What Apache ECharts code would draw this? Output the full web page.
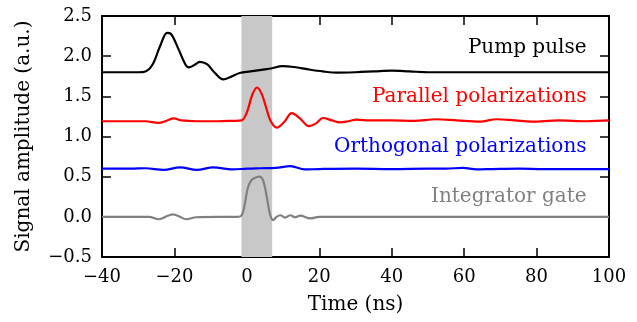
<!DOCTYPE html>
<html>
<head>
<meta charset="utf-8">
<script src="https://cdn.jsdelivr.net/npm/echarts@6/dist/echarts.min.js"></script>
<style>
  html, body { margin: 0; padding: 0; background: #fff; }
  #chart { width: 637px; height: 322px; }
</style>
</head>
<body>
<div id="chart"></div>
<script>
// time axis (ns) and the four traces
const pumpT = [-40, -30, -28, -26, -24, -22, -21, -19, -17, -16, -14.5, -13, -11, -9, -6.5, -4.5, -2, 1, 4, 7, 9.7, 13, 17, 21, 25, 30, 35, 40, 45, 50, 60, 70, 80, 90, 100]
const pumpV = [1.80, 1.80, 1.81, 1.90, 2.12, 2.29, 2.28, 2.10, 1.90, 1.86, 1.89, 1.93, 1.90, 1.80, 1.71, 1.74, 1.79, 1.81, 1.83, 1.85, 1.875, 1.865, 1.835, 1.81, 1.795, 1.80, 1.81, 1.82, 1.81, 1.80, 1.80, 1.80, 1.80, 1.80, 1.80]

const parT = [-40, -32, -28, -24.4, -22, -20.2, -18, -14, -8, -4, -1.5, 0, 1.5, 2.8, 4, 5.2, 6.5, 8.3, 10.3, 12.4, 14.8, 17, 19, 21, 23.5, 25.7, 28, 30.3, 34, 40, 46, 52.4, 58, 64.4, 69, 74, 78.6, 86, 93.8, 100]
const parV = [1.19, 1.19, 1.19, 1.17, 1.20, 1.225, 1.20, 1.19, 1.19, 1.195, 1.20, 1.30, 1.52, 1.61, 1.54, 1.38, 1.20, 1.11, 1.18, 1.29, 1.22, 1.13, 1.16, 1.23, 1.20, 1.175, 1.19, 1.21, 1.20, 1.20, 1.195, 1.215, 1.20, 1.185, 1.215, 1.20, 1.185, 1.20, 1.19, 1.20]

const ortT = [-40, -32, -28, -23, -18.4, -13.8, -9.3, -4.1, 0, 4, 8, 12, 16, 20, 30, 40, 50, 55, 59.7, 63.4, 68, 75, 82, 90, 100]
const ortV = [0.60, 0.60, 0.605, 0.585, 0.615, 0.585, 0.615, 0.59, 0.60, 0.605, 0.61, 0.63, 0.59, 0.595, 0.60, 0.595, 0.60, 0.60, 0.61, 0.59, 0.595, 0.60, 0.595, 0.595, 0.595]

const gateT = [-40, -30, -27, -24.4, -22.5, -20.4, -18.5, -16.8, -14, -8, -2.5, -1.4, -0.6, 0.2, 1, 2, 3.5, 4.5, 5.5, 6.4, 7.3, 8.2, 9.2, 10.6, 12, 13.3, 14.7, 17.5, 20, 25, 40, 60, 80, 100]
const gateV = [0, 0, 0, -0.03, 0, 0.03, 0, -0.03, -0.005, 0, 0, 0.02, 0.15, 0.35, 0.44, 0.48, 0.50, 0.45, 0.25, 0.03, -0.04, 0, 0.02, -0.01, 0.02, -0.005, 0.015, -0.02, 0, 0, 0, 0, 0, 0]

// integrator gate window (ns)
const gateWindow = [-1.5, 7]

const labels = [
  { text: 'Pump pulse', x: 93.8, y: 2.10, color: '#000000' },
  { text: 'Parallel polarizations', x: 93.8, y: 1.49, color: '#ff0000' },
  { text: 'Orthogonal polarizations', x: 93.8, y: 0.87, color: '#0000ff' },
  { text: 'Integrator gate', x: 93.8, y: 0.25, color: '#808080' }
]

const font = 'DejaVu Serif'
const minus = v => String(v).replace('-', '\u2212')
const pairs = (t, v) => t.map((x, i) => [x, v[i]])

const chart = echarts.init(document.getElementById('chart'), null, { renderer: 'canvas' })

const frameAxis = {
  axisLine: { show: true, onZero: false, lineStyle: { color: '#000', width: 2 } },
  axisTick: { show: true, inside: true, length: 9, lineStyle: { color: '#000', width: 1.5 } },
  splitLine: { show: false }
}

function trace(name, t, v, color) {
  return {
    name, type: 'line', data: pairs(t, v), smooth: 0.35, showSymbol: false,
    lineStyle: { color, width: 2.2 }, z: 3, silent: true
  }
}

const options = {
  animation: false,
  grid: { left: 102, right: 28, top: 16, bottom: 65 },
  xAxis: [{
    type: 'value', min: -40, max: 100, interval: 20,
    ...frameAxis,
    axisLabel: { color: '#000', fontFamily: font, fontSize: 18, margin: 11, formatter: minus },
    name: 'Time (ns)', nameLocation: 'middle', nameGap: 38,
    nameTextStyle: { color: '#000', fontFamily: font, fontSize: 20 }
  }, {
    type: 'value', min: -40, max: 100, interval: 20, position: 'top',
    ...frameAxis, axisLabel: { show: false }
  }],
  yAxis: [{
    type: 'value', min: -0.5, max: 2.5, interval: 0.5,
    ...frameAxis,
    axisLabel: { color: '#000', fontFamily: font, fontSize: 18, margin: 10, formatter: v => minus(v.toFixed(1)) },
    name: 'Signal amplitude (a.u.)', nameLocation: 'middle', nameGap: 68,
    nameTextStyle: { color: '#000', fontFamily: font, fontSize: 20 }
  }, {
    type: 'value', min: -0.5, max: 2.5, interval: 0.5, position: 'right',
    ...frameAxis, axisLabel: { show: false }
  }],
  series: [
    {
      type: 'line', data: [], z: 1, silent: true,
      markArea: {
        silent: true,
        itemStyle: { color: '#c8c8c8' },
        data: [[{ xAxis: gateWindow[0] }, { xAxis: gateWindow[1] }]]
      }
    },
    trace('Pump pulse', pumpT, pumpV, '#000000'),
    trace('Parallel polarizations', parT, parV, '#ff0000'),
    trace('Orthogonal polarizations', ortT, ortV, '#0000ff'),
    trace('Integrator gate', gateT, gateV, '#808080')
  ]
}

chart.setOption(options)

// curve labels, right aligned, placed through the axes
chart.setOption({
  graphic: labels.map(l => {
    const p = chart.convertToPixel({ gridIndex: 0 }, [l.x, l.y])
    return {
      type: 'text', x: p[0], y: p[1], z: 10,
      style: { text: l.text, fill: l.color, font: '20px "' + font + '"', align: 'right', verticalAlign: 'middle' }
    }
  })
})
</script>
</body>
</html>
